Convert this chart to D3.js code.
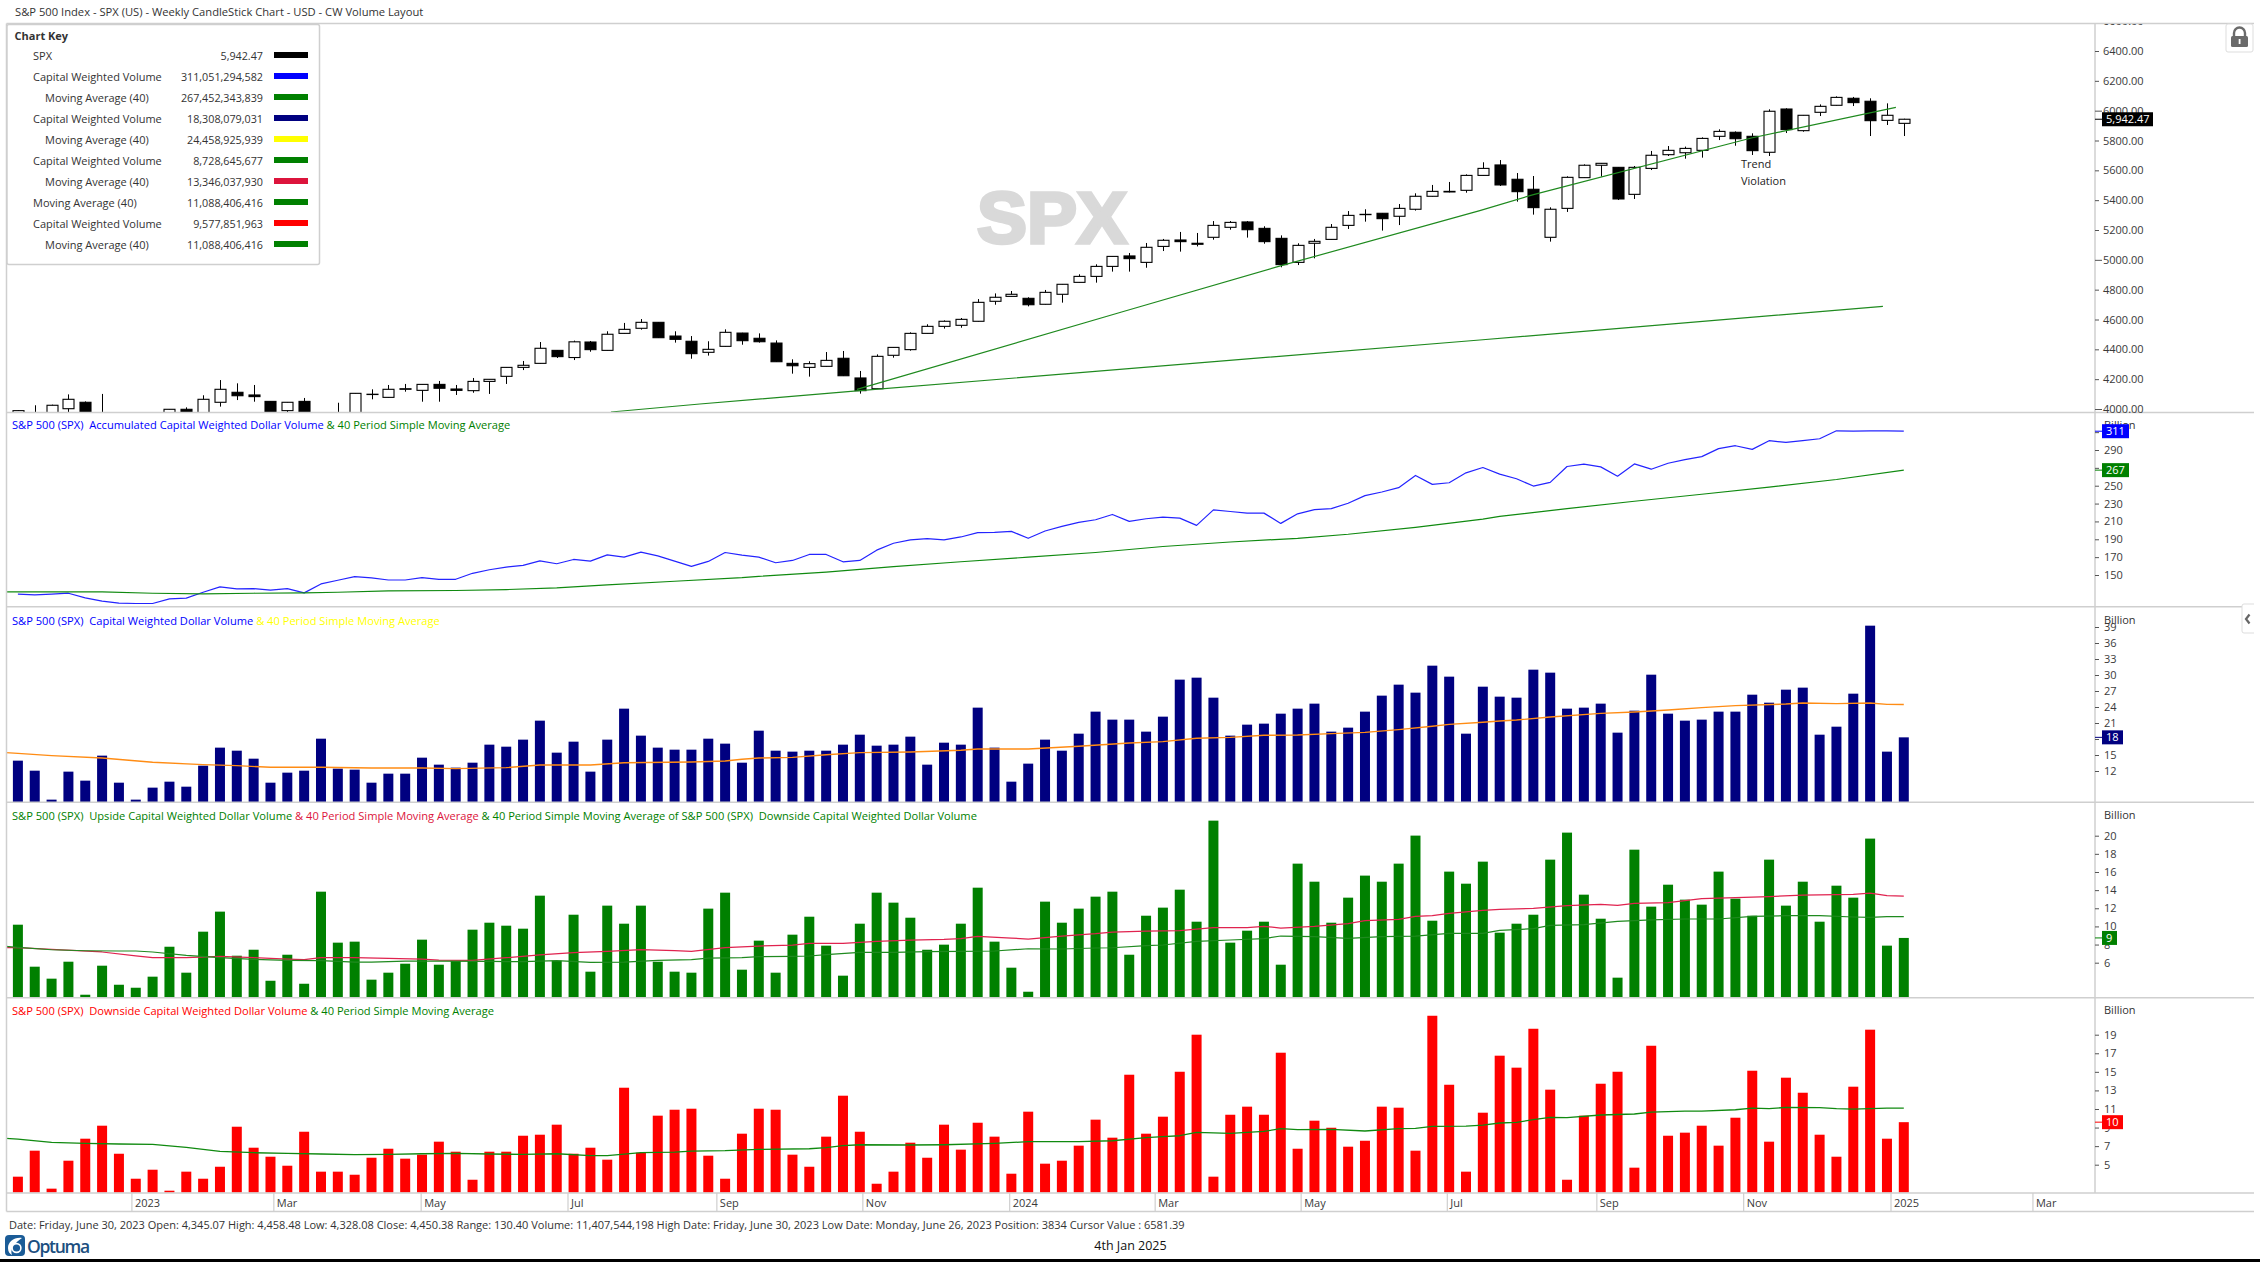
<!DOCTYPE html>
<html>
<head>
<meta charset="utf-8">
<title>SPX Weekly CW Volume Layout</title>
<script src="https://cdnjs.cloudflare.com/ajax/libs/d3/7.8.5/d3.min.js"></script>
<style>
  html, body { margin: 0; padding: 0; background: #fff; }
  svg { display: block; }
  text { font-family: "Open Sans", sans-serif; font-size: 11px; fill: #333; }
  .axis text { fill: #3a3a3a; }
  .axis line { stroke: #555; }
  .rule { stroke: #cfcfcf; stroke-width: 1.5; fill: none; }
</style>
</head>
<body>
<script>
// weekly candles (the first few sit below the visible price range)
var candleOpen = [3900,3900,3900,4002,4045,3880,3930,3840,3830,3900,3998,3960,4045,4112,4094,4051,3989,4051,3970,3930,
  3970,4097,4078,4132,4125,4165,4134,4123,4185,4219,4279,4306,4393,4345.07,4449,4393,4507,4541,4581,4489,
  4454,4380,4420,4509,4474,4442,4306,4279,4286,4340,4208,4136,4360,4398,4507,4554,4561,4588,4722,4755,
  4742,4702,4769,4849,4889,4956,5026,4983,5090,5133,5104,5151,5218,5254,5211,5144,4983,5111,5137,5231,
  5303,5312,5292,5339,5426,5455,5466,5566,5636,5540,5473,5151,5345,5551,5634,5620,5439,5613,5705,5718,
  5734,5828,5855,5828,5721,6011,5866,5989,6036,6083,6063,5935,5915];
var candleHigh = [3992,4025,4029,4098,4051,4101,3960,3900,3910,3999,4011,4092,4194,4172,4161,4053,4047,4074,3975,4042,
  4107,4132,4161,4168,4166,4188,4161,4208,4200,4281,4322,4449,4395,4458.48,4456,4521,4577,4603,4583,4521,
  4489,4454,4534,4511,4507,4460,4333,4320,4382,4389,4255,4366,4415,4514,4568,4594,4610,4737,4775,4791,
  4749,4798,4838,4903,4970,5025,5046,5113,5140,5187,5180,5260,5260,5260,5225,5164,5111,5140,5240,5327,
  5339,5314,5374,5446,5502,5522,5573,5654,5669,5582,5562,5352,5560,5640,5649,5622,5629,5730,5763,5759,
  5821,5875,5861,5848,6009,6016,5971,6042,6096,6092,6083,6049,5946];
var candleLow = [3880,3880,3880,3960,3880,3860,3800,3780,3760,3880,3950,3950,4016,4060,4049,3960,3975,3960,3900,3920,
  3965,4065,4076,4116,4049,4049,4094,4109,4101,4168,4261,4304,4342,4328.08,4384,4391,4505,4532,4476,4445,
  4337,4358,4418,4431,4445,4315,4237,4217,4284,4221,4103,4134,4344,4391,4505,4539,4545,4586,4699,4753,
  4688,4700,4713,4847,4847,4921,4921,4947,5059,5055,5090,5135,5202,5149,5108,4950,4965,5010,5135,5207,
  5256,5196,5233,5330,5424,5452,5450,5564,5495,5390,5303,5122,5321,5549,5558,5401,5408,5602,5696,5678,
  5685,5803,5765,5703,5696,5850,5859,5964,6034,6031,5830,5904,5830];
var candleClose = [3989,3960,4025,4065,3900,3930,3850,3830,3840,3998,3960,4065,4132,4089,4083,3970,4045,3970,3930,3970,
  4105,4099,4132,4136,4165,4139,4125,4185,4199,4279,4293,4407,4351,4450.38,4398,4501,4534,4581,4478,4467,
  4371,4400,4514,4458,4451,4317,4290,4304,4326,4223,4123,4353,4413,4507,4554,4588,4601,4715,4749,4769,
  4699,4782,4836,4889,4956,5023,5008,5084,5131,5122,5111,5231,5251,5202,5122,4968,5097,5124,5218,5298,
  5305,5276,5345,5426,5459,5459,5566,5613,5502,5457,5350,5339,5553,5634,5647,5408,5620,5701,5734,5747,
  5814,5861,5812,5732,5996,5873,5969,6029,6089,6054,5933,5969,5942.47];

var trendAIdx = [49.83,65.6,74.98,86.82,89.95,102.95,111.53];
var trendAVal = [4132,4652,4959,5330,5435,5817,6022];
var trendBIdx = [35.22,40.5,50.0,86.82,110.76];
var trendBVal = [3980,4033.5,4123,4462.6,4688];

// accumulated volume line, billions, one reading a week from bar 0
var accVolume = [128.5,127.8,128.5,129.6,124.4,120.7,118.5,118.1,118.1,123.3,124.1,130.7,136.7,134.4,134.8,133.0,134.8,130.0,140.0,144.1,
  148.1,146.7,144.4,144.4,147.0,145.2,145.2,151.9,155.9,158.9,160.7,165.9,162.6,167.4,165.6,172.6,170.0,175.6,171.5,165.6,
  159.6,165.2,175.2,172.2,170.0,163.7,166.3,173.0,173.0,164.8,166.3,177.8,185.6,189.3,190.7,189.3,192.6,197.4,197.8,198.9,
  191.1,199.3,204.4,208.9,211.9,217.8,210.0,213.0,214.8,213.7,205.6,223.0,221.1,219.3,219.3,207.8,218.5,223.3,224.4,230.4,
  238.9,243.0,247.8,261.5,251.5,253.3,264.4,270.4,263.0,257.8,249.6,253.7,271.5,274.1,271.1,260.7,274.4,268.5,275.2,279.3,
  282.6,291.5,294.8,290.7,300.4,298.5,300.4,302.6,311.5,311.1,311.5,311.5,311.05];
var accMaIdx = [-1,5,8,11,14,17,19,22,26,29,32,35,39,43,44,48,52,56,60,64,68,72,76,79,83,87,88,92,96,100,104,108,112];
var accMaVal = [131.1,131.1,129.6,128.9,129.6,130.0,130.7,132.2,132.6,133.7,135.6,138.9,143.0,147.0,148.5,153.3,159.3,164.8,170.0,175.2,181.9,187.0,191.1,195.6,203.3,212.6,215.6,224.4,232.6,240.4,248.5,257.0,267.45];

var totalVolume = [13.94,12.06,6.63,11.88,10.19,14.88,9.81,6.63,8.88,10.0,9.06,13.0,16.38,15.81,14.31,9.81,11.69,12.06,18.06,12.44,
  12.25,9.81,11.5,11.5,14.5,13.19,12.63,13.56,16.94,16.56,17.88,21.44,15.44,17.5,11.88,17.88,23.69,18.63,16.38,16.0,
  16.0,18.06,17.13,13.56,19.56,15.81,15.63,15.81,15.81,16.94,18.81,16.75,16.94,18.44,13.19,17.31,16.94,23.88,16.38,10.0,
  13.38,17.88,15.81,19.0,23.13,21.63,21.63,19.38,22.19,29.13,29.5,25.75,18.63,20.69,20.88,22.75,23.69,24.63,19.38,20.13,
  23.13,26.13,28.19,26.69,31.75,29.69,19.0,27.81,25.94,25.75,31.0,30.44,23.69,23.88,24.63,19.19,23.31,30.06,22.75,21.44,
  21.63,23.13,23.13,26.31,24.81,27.25,27.63,18.81,20.31,26.5,39.25,15.63,18.31];
var totalMaIdx = [-1,0,2,5,8,11,13,15,18,21,24,26,29,31,34,36,40,42,43,44,46,48,50,53,56,57,60,63,66,68,70,72,74,76,78,80,82,84,85,87,88,89,91,94,96,98,100,102,105,106,108,110,111,112];
var totalMaVal = [15.5,15.31,14.88,14.44,13.63,13.19,13.0,12.69,12.69,12.56,12.56,12.44,12.63,13.13,13.13,13.56,13.69,13.88,14.19,14.44,14.56,15.06,15.44,15.56,15.88,16.13,16.13,16.63,17.25,17.5,18.13,18.31,18.69,18.75,19.0,19.25,19.75,20.38,20.75,21.13,21.38,21.56,22.13,22.81,23.06,23.44,23.88,24.25,24.56,24.75,24.63,24.75,24.5,24.46];

var upVolume = [10.19,5.56,4.24,6.11,2.47,5.67,3.57,3.24,4.46,7.76,4.90,9.42,11.63,6.77,7.43,4.01,6.88,3.68,13.83,8.21,
  8.32,4.13,4.90,5.89,8.54,5.78,6.22,9.64,10.41,10.08,9.75,13.39,6.22,11.29,5.01,12.29,10.30,12.29,6.11,5.01,
  4.90,11.96,13.72,5.23,8.43,4.90,9.09,11.07,7.88,4.57,10.30,13.72,12.62,10.96,7.43,7.99,10.30,14.27,8.32,5.45,
  2.80,12.73,10.41,11.96,13.28,13.83,6.88,11.18,12.07,14.05,10.52,21.66,8.21,9.53,10.52,5.78,16.92,14.93,10.41,13.17,
  15.60,14.93,16.92,20.01,10.63,16.04,14.71,17.14,9.31,10.30,11.29,17.36,20.34,13.50,10.85,4.35,18.46,12.18,14.60,12.95,
  12.40,16.04,13.06,11.18,17.36,12.29,14.93,10.52,14.49,13.17,19.68,7.88,8.73];
var upMaIdx = [-1,0,2,5,7,8,10,12,14,16,17,18,20,22,24,25,27,29,31,33,35,37,39,40,42,44,46,47,49,51,53,55,56,57,59,60,62,64,65,67,69,71,73,74,75,77,79,80,82,83,84,85,87,88,90,92,94,95,96,98,100,102,104,106,108,109,110,111,112];
var upMaVal = [7.65,7.65,7.47,7.18,6.74,6.55,6.55,6.70,6.55,6.40,6.33,6.55,6.55,6.48,6.40,6.29,6.26,6.55,6.85,7.10,7.25,7.43,7.32,7.25,7.65,7.84,7.95,8.13,8.13,8.35,8.50,8.57,8.65,8.90,8.72,8.61,8.94,9.20,9.38,9.49,9.53,9.86,9.86,10.01,9.82,10.01,10.30,10.63,10.78,11.11,11.18,11.44,11.77,11.88,11.99,12.29,12.43,12.32,12.54,12.62,13.06,13.17,13.28,13.46,13.50,13.54,13.68,13.39,13.35];
var upDownMaIdx = [-1,0,2,4,6,7,8,10,12,14,16,18,20,21,23,25,28,30,32,34,36,38,40,41,43,44,46,47,48,50,52,54,56,58,60,62,64,65,67,68,70,72,74,75,77,79,81,83,85,87,88,90,91,93,95,97,99,101,103,105,107,109,110,111,112];
var upDownMaVal = [7.84,7.69,7.43,7.32,7.29,7.29,7.18,6.81,6.55,6.37,6.26,6.22,6.07,6.07,6.18,6.18,6.15,6.11,6.22,6.04,6.07,6.26,6.33,6.51,6.55,6.66,6.70,6.74,6.88,7.14,7.14,7.21,7.25,7.29,7.54,7.51,7.62,7.65,7.88,7.95,8.35,8.50,8.65,8.94,8.87,8.68,8.87,8.94,9.24,9.24,9.57,9.75,10.12,10.19,10.56,10.71,10.82,10.82,11.11,11.18,11.18,11.04,11.00,11.09,11.09];

var downVolume = [3.71,6.51,2.42,5.43,7.80,9.20,6.18,3.49,4.46,2.20,4.25,3.49,4.78,9.09,6.83,5.86,4.89,8.55,4.25,4.25,
  3.92,5.75,6.72,5.65,6.08,7.48,6.40,3.38,6.40,6.40,8.12,8.23,9.31,6.18,6.83,5.54,13.29,6.29,10.28,10.92,
  11.03,5.97,3.49,8.34,11.03,10.92,6.08,4.78,8.02,12.43,8.55,2.95,4.25,7.37,5.75,9.31,6.62,9.52,8.02,4.03,
  10.71,5.11,5.43,7.05,9.85,7.91,14.69,8.34,10.17,15.01,19.0,3.71,10.38,11.25,10.38,17.06,6.72,9.74,8.98,6.94,
  7.58,11.25,11.14,6.51,21.04,13.61,4.25,10.60,16.74,15.45,19.64,13.08,3.38,10.28,13.72,15.01,4.68,17.81,8.12,8.45,
  9.20,7.05,10.06,15.12,7.48,14.37,12.75,8.23,5.86,13.40,19.54,7.80,9.58];
var downMaIdx = [-1,0,2,4,6,8,10,12,14,16,18,20,22,24,26,28,30,32,34,35,37,39,40,42,44,47,48,49,50,53,55,58,60,63,65,67,68,69,70,72,74,75,76,78,80,82,83,84,86,87,88,89,90,91,92,94,96,97,99,100,102,103,104,105,107,108,109,111,112];
var downMaVal = [7.87,7.76,7.40,7.30,7.23,7.19,6.87,6.44,6.29,6.22,6.15,6.08,6.11,6.18,6.22,6.15,6.11,6.18,5.97,5.97,6.29,6.36,6.47,6.51,6.65,6.72,6.83,7.05,7.15,7.12,7.15,7.30,7.48,7.48,7.58,7.91,8.02,8.12,8.48,8.37,8.59,8.88,8.77,8.80,8.63,8.88,8.91,9.13,9.16,9.27,9.49,9.56,9.85,10.10,10.06,10.35,10.46,10.67,10.78,10.78,10.92,11.10,11.03,11.17,11.14,11.03,10.99,11.09,11.09];

var priceTicks = [4000,4200,4400,4600,4800,5000,5200,5400,5600,5800,6000,6200,6400,6600];
var accTicks = [150,170,190,210,230,250,270,290,310];
var totalTicks = [12,15,18,21,24,27,30,33,36,39];
var upTicks = [6,8,10,12,14,16,18,20];
var downTicks = [5,7,9,11,13,15,17,19];

var dateTickIdx = [6.74,15.17,23.92,32.64,41.48,50.15,58.87,67.51,76.18,84.86,93.74,102.46,111.21,119.64];
var dateTickLabels = ["2023","Mar","May","Jul","Sep","Nov","2024","Mar","May","Jul","Sep","Nov","2025","Mar"];

var keyLabels = ["SPX","Capital Weighted Volume","Moving Average (40)","Capital Weighted Volume","Moving Average (40)","Capital Weighted Volume","Moving Average (40)","Moving Average (40)","Capital Weighted Volume","Moving Average (40)"];
var keyIndent = [0,0,1,0,1,0,1,0,0,1];
var keyValues = ["5,942.47","311,051,294,582","267,452,343,839","18,308,079,031","24,458,925,939","8,728,645,677","13,346,037,930","11,088,406,416","9,577,851,963","11,088,406,416"];
var keyColors = ["#000000","#0000ff","#008000","#000080","#ffff00","#008000","#dc143c","#008000","#ff0000","#008000"];

var svg = d3.select("body").append("svg").attr("width", 2260).attr("height", 1262);
var defs = svg.append("defs");

var axisX = 2095, leftX = 6.5, rightX = 2254;
var x = d3.scaleLinear().domain([0, 112]).range([17.9, 1903.8]);

// the five stacked panes
var panes = [
  { id: "price", top: 24, bottom: 412.5, y: d3.scaleLinear().domain([4000, 6400]).range([409, 51]) },
  { id: "acc", top: 413, bottom: 606.7, y: d3.scaleLinear().domain([150, 290]).range([575, 450]) },
  { id: "total", top: 607, bottom: 802, y: d3.scaleLinear().domain([12, 39]).range([771, 627]) },
  { id: "up", top: 802.5, bottom: 997.5, y: d3.scaleLinear().domain([6, 20]).range([962.7, 835.7]) },
  { id: "down", top: 998, bottom: 1192.7, y: d3.scaleLinear().domain([5, 19]).range([1164.7, 1034.7]) }
];
var pane = {};
panes.forEach(function(p) {
  pane[p.id] = p;
  defs.append("clipPath").attr("id", "clip-" + p.id).append("rect")
    .attr("x", leftX).attr("y", p.top).attr("width", axisX - leftX).attr("height", p.bottom - p.top);
});
// used on the axis group itself, so it is in the axis's own coordinates
defs.append("clipPath").attr("id", "clip-priceaxis").append("rect")
  .attr("x", 0).attr("y", 24).attr("width", 100).attr("height", 390);

function plot(id) {
  return svg.append("g").attr("clip-path", "url(#clip-" + id + ")");
}

function drawBars(id, values, color) {
  var p = pane[id];
  plot(id).selectAll("rect").data(values).enter().append("rect")
    .attr("x", function(d, i) { return x(i) - 5; })
    .attr("width", 10)
    .attr("y", function(d) { return p.y(d); })
    .attr("height", function(d) { return Math.max(0, p.bottom - p.y(d)); })
    .attr("fill", color);
}

function drawLine(id, idx, vals, color, width) {
  var p = pane[id];
  var line = d3.line()
    .x(function(d) { return x(d); })
    .y(function(d, i) { return p.y(vals[i]); });
  plot(id).append("path")
    .attr("d", line(idx))
    .attr("fill", "none")
    .attr("stroke", color)
    .attr("stroke-width", width || 1.3)
    .attr("stroke-linejoin", "round");
}

function drawAxis(id, ticks, fmt) {
  var p = pane[id];
  var ax = d3.axisRight(p.y).tickValues(ticks).tickSize(4).tickPadding(5);
  if (fmt) ax.tickFormat(fmt);
  var g = svg.append("g").attr("class", "axis")
    .attr("transform", "translate(" + axisX + ",0)")
    .call(ax);
  g.select(".domain").remove();
  g.attr("font-family", null).attr("font-size", null);
  return g;
}

function tag(id, value, label, color, w) {
  var cy = pane[id].y(value);
  svg.append("line").attr("x1", axisX).attr("x2", axisX + 8).attr("y1", cy).attr("y2", cy).attr("stroke", color);
  svg.append("rect").attr("x", 2102).attr("y", cy - 7).attr("width", w).attr("height", 14).attr("fill", color);
  svg.append("text").attr("x", 2106).attr("y", cy + 4).style("fill", "#fff").text(label);
}

function paneTitle(y, parts) {
  var t = svg.append("text").attr("x", 12).attr("y", y).attr("xml:space", "preserve").style("font-size", "11.12px");
  parts.forEach(function(part) {
    t.append("tspan").style("fill", part[1]).text(part[0]);
  });
}

function billion(y) {
  svg.append("text").attr("x", 2104).attr("y", y + 4).text("Billion");
}

// watermark sits under the candles
svg.append("text").attr("x", 1052).attr("y", 242.5).attr("text-anchor", "middle")
  .attr("textLength", 150).attr("lengthAdjust", "spacingAndGlyphs")
  .style("font-family", "'Liberation Sans', Arial, sans-serif").style("font-size", "73px").style("font-weight", "bold")
  .style("fill", "#d9d9d9").style("stroke", "#d9d9d9").style("stroke-width", "3.5px")
  .text("SPX");

// candles
var candles = plot("price").selectAll("g").data(candleClose).enter().append("g");
var py = pane.price.y;
candles.append("line")
  .attr("x1", function(d, i) { return Math.round(x(i)) + 0.5; })
  .attr("x2", function(d, i) { return Math.round(x(i)) + 0.5; })
  .attr("y1", function(d, i) { return py(candleHigh[i]); })
  .attr("y2", function(d, i) { return py(candleLow[i]); })
  .attr("stroke", "#000").attr("stroke-width", 1);
candles.append("rect")
  .attr("x", function(d, i) { return Math.round(x(i)) - 5; })
  .attr("width", 11)
  .attr("y", function(d, i) { return py(Math.max(candleOpen[i], d)); })
  .attr("height", function(d, i) { return Math.abs(py(candleOpen[i]) - py(d)); })
  .attr("fill", function(d, i) { return d >= candleOpen[i] ? "#fff" : "#000"; })
  .attr("stroke", "#000").attr("stroke-width", 1.1);

drawLine("price", trendAIdx, trendAVal, "#1f8a1f", 1.2);
drawLine("price", trendBIdx, trendBVal, "#1f8a1f", 1.2);

svg.append("text").attr("x", 1741).attr("y", 168).style("fill", "#222").text("Trend");
svg.append("text").attr("x", 1741).attr("y", 185).style("fill", "#222").text("Violation");

// lower panes
drawLine("acc", d3.range(0, accVolume.length), accVolume, "#2424ff", 1.2);
drawLine("acc", accMaIdx, accMaVal, "#108a10", 1.15);

drawBars("total", totalVolume, "#000080");
drawLine("total", totalMaIdx, totalMaVal, "#ff8c14", 1.4);

drawBars("up", upVolume, "#008000");
drawLine("up", upMaIdx, upMaVal, "#e0234f", 1.25);
drawLine("up", upDownMaIdx, upDownMaVal, "#1f8a1f", 1.2);

drawBars("down", downVolume, "#ff0000");
drawLine("down", downMaIdx, downMaVal, "#108a10", 1.3);

// frame rules
[23.5, 412.5, 606.8, 802.2, 997.7, 1192.9, 1211.5].forEach(function(d) {
  svg.append("line").attr("class", "rule").attr("x1", leftX).attr("x2", rightX).attr("y1", d).attr("y2", d);
});
svg.append("line").attr("class", "rule").attr("x1", leftX).attr("x2", leftX).attr("y1", 23.5).attr("y2", 1211.5);
svg.append("line").attr("class", "rule").attr("x1", axisX).attr("x2", axisX).attr("y1", 23.5).attr("y2", 1192.9);

// right hand scales
var priceAxis = drawAxis("price", priceTicks, d3.format(".2f"));
priceAxis.attr("clip-path", "url(#clip-priceaxis)");
priceAxis.selectAll("line").attr("x2", function(d) { return d % 1000 === 0 ? 7 : 4; });
priceAxis.selectAll("text").attr("x", 8);
drawAxis("acc", accTicks);
drawAxis("total", totalTicks);
drawAxis("up", upTicks);
drawAxis("down", downTicks);
billion(424.7);
billion(620);
billion(815);
billion(1010);

tag("price", 5942.47, "5,942.47", "#000000", 51);
tag("acc", 311.05, "311", "#0000ff", 27);
tag("acc", 267.45, "267", "#008000", 27);
tag("total", 18.31, "18", "#000080", 21);
tag("up", 8.73, "9", "#008000", 15);
tag("down", 9.58, "10", "#ff0000", 21);

// date axis
var dateAxis = svg.append("g").attr("class", "axis")
  .attr("transform", "translate(0,1193)")
  .call(d3.axisBottom(x).tickValues(dateTickIdx).tickSize(18)
    .tickFormat(function(d, i) { return dateTickLabels[i]; }));
dateAxis.select(".domain").remove();
dateAxis.attr("font-family", null).attr("font-size", null);
dateAxis.selectAll("line").style("stroke", "#cfcfcf").attr("stroke-width", 1.2);
dateAxis.selectAll("text").attr("text-anchor", "start").attr("x", 3).attr("y", 0).attr("dy", 14);

// pane titles
paneTitle(429, [["S&P 500 (SPX)  Accumulated Capital Weighted Dollar Volume ", "#0000ff"], ["& 40 Period Simple Moving Average", "#008000"]]);
paneTitle(624.7, [["S&P 500 (SPX)  Capital Weighted Dollar Volume ", "#0000ff"], ["& 40 Period Simple Moving Average", "#ffff00"]]);
paneTitle(819.7, [["S&P 500 (SPX)  Upside Capital Weighted Dollar Volume ", "#008000"], ["& 40 Period Simple Moving Average ", "#dc143c"], ["& 40 Period Simple Moving Average of S&P 500 (SPX)  Downside Capital Weighted Dollar Volume", "#008000"]]);
paneTitle(1014.7, [["S&P 500 (SPX)  Downside Capital Weighted Dollar Volume ", "#ff0000"], ["& 40 Period Simple Moving Average", "#008000"]]);

// header and footer text
svg.append("text").attr("x", 15).attr("y", 16).style("font-size", "11.2px").text("S&P 500 Index - SPX (US) - Weekly CandleStick Chart - USD - CW Volume Layout");
svg.append("text").attr("x", 9).attr("y", 1229)
  .text("Date: Friday, June 30, 2023 Open: 4,345.07 High: 4,458.48 Low: 4,328.08 Close: 4,450.38 Range: 130.40 Volume: 11,407,544,198 High Date: Friday, June 30, 2023 Low Date: Monday, June 26, 2023 Position: 3834 Cursor Value : 6581.39");
svg.append("text").attr("x", 1130.5).attr("y", 1250).attr("text-anchor", "middle")
  .style("font-size", "12.5px").style("fill", "#111").text("4th Jan 2025");
svg.append("rect").attr("x", 0).attr("y", 1259).attr("width", 2260).attr("height", 3).attr("fill", "#000");

// chart key
var key = svg.append("g");
key.append("rect").attr("x", 7).attr("y", 24.5).attr("width", 312.5).attr("height", 240).attr("rx", 2)
  .attr("fill", "#fff").attr("stroke", "#cfcfcf").attr("stroke-width", 1.5);
key.append("text").attr("x", 14.5).attr("y", 40).style("font-weight", "bold").text("Chart Key");
var keyRow = key.selectAll(".row").data(keyLabels).enter().append("g")
  .attr("class", "row")
  .attr("transform", function(d, i) { return "translate(0," + (56 + i * 21) + ")"; });
keyRow.append("text").attr("x", function(d, i) { return keyIndent[i] ? 45 : 33; }).attr("y", 4).text(function(d) { return d; });
keyRow.append("text").attr("x", 263).attr("y", 4).attr("text-anchor", "end").style("font-size", "10.75px").text(function(d, i) { return keyValues[i]; });
keyRow.append("rect").attr("x", 274).attr("y", -4).attr("width", 34).attr("height", 6).attr("fill", function(d, i) { return keyColors[i]; });

// lock button
var lock = svg.append("g");
lock.append("rect").attr("x", 2226).attr("y", 24).attr("width", 27).attr("height", 28).attr("rx", 2).attr("fill", "#fff").attr("stroke", "#ddd");
lock.append("path").attr("d", "M2234 37v-4a5.5 5.5 0 0 1 11 0v4").attr("fill", "none").attr("stroke", "#6a6a6a").attr("stroke-width", 2.4);
lock.append("rect").attr("x", 2231).attr("y", 36).attr("width", 17).attr("height", 11).attr("rx", 1.5).attr("fill", "#6a6a6a");
lock.append("rect").attr("x", 2238.7).attr("y", 39).attr("width", 1.8).attr("height", 5).attr("fill", "#fff");

// collapse tab
var tab = svg.append("g");
tab.append("path").attr("d", "M2254 604h-10a2 2 0 0 0 -2 2v25a2 2 0 0 0 2 2h10").attr("fill", "#fff").attr("stroke", "#ddd");
tab.append("path").attr("d", "M2249.5 614.5l-3.5 4.5l3.5 4.5").attr("fill", "none").attr("stroke", "#666").attr("stroke-width", 2.2);

// logo
var logo = svg.append("g");
logo.append("rect").attr("x", 5).attr("y", 1235).attr("width", 20).attr("height", 21).attr("rx", 4).attr("fill", "#1b5c97");
logo.append("path").attr("d", "M22 1238c-8 -1 -14 4 -14 10c0 4 2 6 4 7c-1 -2 -1 -5 1 -8c2 -4 6 -7 9 -9z").attr("fill", "#fff");
logo.append("circle").attr("cx", 16.5).attr("cy", 1248).attr("r", 5.2).attr("fill", "#fff");
logo.append("circle").attr("cx", 16.5).attr("cy", 1248).attr("r", 3.6).attr("fill", "#1b5c97");
logo.append("text").attr("x", 27).attr("y", 1253)
  .style("font-size", "17.5px").style("font-weight", "600").style("letter-spacing", "-1.3px").style("fill", "#1c4f80")
  .text("Optuma");
</script>
</body>
</html>
